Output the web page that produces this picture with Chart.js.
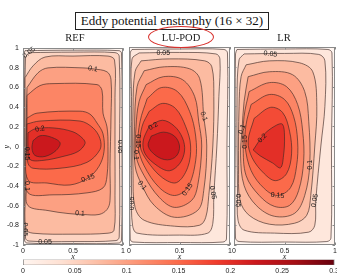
<!DOCTYPE html>
<html>
<head>
<meta charset="utf-8">
<script src="https://cdn.jsdelivr.net/npm/chart.js@4.4.1/dist/chart.umd.min.js"></script>
<style>
  html, body { margin: 0; padding: 0; background: #fff; width: 337px; height: 274px; overflow: hidden; }
  .box { position: absolute; }
  #title {
    left: 75px; top: 12px; width: 194px; height: 18px; box-sizing: border-box;
    border: 1px solid #222; text-align: center; line-height: 16px;
    font: 13px "Liberation Serif", "Times New Roman", serif; color: #111;
  }
  .ptitle {
    position: absolute; top: 32px; line-height: 12px; transform: translateX(-50%);
    font: 10.5px "Liberation Serif", "Times New Roman", serif; color: #222; white-space: nowrap;
  }
  #ring {
    left: 148px; top: 26px; width: 66px; height: 22px; box-sizing: border-box;
    border: 1.6px solid #d8302c; border-radius: 50%;
  }
</style>
</head>
<body>
<div id="title" class="box">Eddy potential enstrophy (16 × 32)</div>

<div class="box" style="left:0;top:40px;width:128px;height:222px"><canvas id="ref"></canvas></div>
<div class="box" style="left:124px;top:40px;width:111px;height:222px"><canvas id="lupod"></canvas></div>
<div class="box" style="left:229px;top:40px;width:115px;height:222px"><canvas id="lr"></canvas></div>
<div class="box" style="left:18px;top:255px;width:325px;height:19px"><canvas id="cbar"></canvas></div>

<div class="ptitle" style="left:75px">REF</div>
<div class="ptitle" style="left:181px">LU-POD</div>
<div class="ptitle" style="left:284px">LR</div>
<div id="ring" class="box"></div>

<script>
// contour levels and colour scale
const levels = [0.025, 0.05, 0.075, 0.1, 0.125, 0.15, 0.175, 0.2, 0.225];
const cMax = 0.3;
const xTicks = [0, 0.5, 1];
const yTicks = [-1, -0.8, -0.6, -0.4, -0.2, 0, 0.2, 0.4, 0.6, 0.8, 1];
const cbTicks = [0, 0.05, 0.1, 0.15, 0.2, 0.25, 0.3];

// contour lines, [x, y], one list per level
const refContours = [
  [[0.02,0.975],[0.5,0.98],[0.96,0.975],[0.985,0.95],[0.99,0],[0.985,-0.95],[0.96,-0.98],[0.5,-0.985],[0.04,-0.98],[0.015,-0.95],[0.01,0],[0.012,0.95]],
  [[0.06,0.955],[0.5,0.96],[0.92,0.955],[0.962,0.92],[0.965,0],[0.962,-0.92],[0.93,-0.955],[0.5,-0.965],[0.06,-0.96],[0.025,-0.93],[0.02,0],[0.025,0.9]],
  [[0.02,0.7],[0.1,0.82],[0.22,0.91],[0.5,0.92],[0.85,0.92],[0.915,0.88],[0.92,0.5],[0.92,0],[0.92,-0.5],[0.91,-0.85],[0.85,-0.88],[0.5,-0.89],[0.1,-0.88],[0.03,-0.84],[0.022,-0.5],[0.02,0]],
  [[0.04,0.6],[0.15,0.75],[0.25,0.8],[0.6,0.8],[0.7,0.79],[0.84,0.76],[0.88,0.68],[0.88,0.3],[0.87,-0.2],[0.87,-0.55],[0.84,-0.64],[0.76,-0.69],[0.6,-0.69],[0.45,-0.68],[0.25,-0.65],[0.05,-0.6],[0.035,-0.4],[0.03,0],[0.035,0.4]],
  [[0.04,0.52],[0.17,0.62],[0.3,0.64],[0.74,0.63],[0.79,0.57],[0.8,0.34],[0.84,0.2],[0.85,0],[0.84,-0.3],[0.8,-0.42],[0.64,-0.47],[0.3,-0.49],[0.05,-0.47],[0.04,-0.2],[0.04,0.2]],
  [[0.04,0.29],[0.14,0.34],[0.57,0.36],[0.67,0.33],[0.74,0.24],[0.8,0.13],[0.81,-0.05],[0.76,-0.2],[0.65,-0.32],[0.47,-0.39],[0.24,-0.37],[0.05,-0.34],[0.035,0]],
  [[0.04,0.23],[0.17,0.26],[0.57,0.26],[0.7,0.19],[0.77,0.08],[0.77,-0.03],[0.64,-0.16],[0.37,-0.22],[0.1,-0.22],[0.05,-0.17],[0.04,0]],
  [[0.05,0.14],[0.12,0.18],[0.3,0.19],[0.5,0.15],[0.6,0.08],[0.62,0.03],[0.55,-0.05],[0.4,-0.1],[0.2,-0.14],[0.07,-0.13],[0.05,0]],
  [[0.1,0.06],[0.17,0.11],[0.27,0.1],[0.37,0.04],[0.33,-0.04],[0.22,-0.1],[0.12,-0.09],[0.09,-0.02]]
];
const lupodContours = [
  [[0.03,0.975],[0.5,0.98],[0.94,0.975],[0.975,0.94],[0.97,0],[0.965,-0.94],[0.93,-0.97],[0.5,-0.975],[0.04,-0.97],[0.012,-0.94],[0.01,0],[0.012,0.94]],
  [[0.1,0.94],[0.5,0.945],[0.86,0.93],[0.9,0.88],[0.89,0.5],[0.87,0],[0.84,-0.5],[0.83,-0.78],[0.78,-0.88],[0.5,-0.9],[0.08,-0.88],[0.035,-0.8],[0.025,-0.5],[0.025,0.5],[0.03,0.88]],
  [[0.12,0.86],[0.4,0.88],[0.75,0.86],[0.82,0.8],[0.84,0.5],[0.83,0],[0.79,-0.5],[0.76,-0.72],[0.7,-0.8],[0.45,-0.81],[0.15,-0.75],[0.06,-0.62],[0.04,-0.3],[0.04,0.4],[0.06,0.75]],
  [[0.15,0.76],[0.35,0.8],[0.6,0.78],[0.7,0.68],[0.74,0.3],[0.77,0],[0.74,-0.45],[0.68,-0.65],[0.45,-0.72],[0.25,-0.6],[0.13,-0.4],[0.06,-0.2],[0.055,0.2],[0.08,0.6]],
  [[0.17,0.62],[0.34,0.7],[0.53,0.67],[0.65,0.5],[0.69,0.25],[0.72,0],[0.68,-0.4],[0.62,-0.55],[0.45,-0.62],[0.3,-0.52],[0.15,-0.3],[0.07,-0.1],[0.07,0.2],[0.1,0.45]],
  [[0.18,0.48],[0.32,0.59],[0.48,0.55],[0.6,0.35],[0.66,0.1],[0.66,-0.15],[0.58,-0.42],[0.45,-0.5],[0.3,-0.42],[0.15,-0.2],[0.09,0],[0.11,0.25]],
  [[0.2,0.35],[0.33,0.43],[0.46,0.38],[0.56,0.2],[0.61,0],[0.58,-0.22],[0.47,-0.37],[0.33,-0.32],[0.18,-0.15],[0.11,0],[0.13,0.2]],
  [[0.2,0.2],[0.33,0.26],[0.45,0.2],[0.53,0.08],[0.55,-0.05],[0.5,-0.18],[0.4,-0.25],[0.28,-0.2],[0.16,-0.08],[0.14,0.05]],
  [[0.22,0.1],[0.34,0.14],[0.45,0.1],[0.5,0],[0.47,-0.1],[0.38,-0.14],[0.27,-0.1],[0.19,0]]
];
const lrContours = [
  [[0.03,0.975],[0.5,0.98],[0.93,0.975],[0.97,0.94],[0.965,0],[0.96,-0.93],[0.92,-0.965],[0.5,-0.97],[0.05,-0.965],[0.015,-0.93],[0.012,0],[0.015,0.93]],
  [[0.1,0.93],[0.5,0.935],[0.84,0.925],[0.9,0.86],[0.9,0.4],[0.86,0],[0.81,-0.55],[0.8,-0.8],[0.74,-0.87],[0.4,-0.88],[0.1,-0.85],[0.04,-0.75],[0.035,-0.5],[0.03,0.5],[0.05,0.87]],
  [[0.12,0.82],[0.35,0.86],[0.65,0.84],[0.78,0.75],[0.82,0.4],[0.8,0],[0.76,-0.5],[0.72,-0.7],[0.6,-0.78],[0.35,-0.79],[0.15,-0.7],[0.06,-0.55],[0.045,-0.2],[0.05,0.4],[0.07,0.7]],
  [[0.14,0.7],[0.35,0.75],[0.58,0.72],[0.7,0.55],[0.74,0.25],[0.75,-0.19],[0.7,-0.5],[0.6,-0.68],[0.4,-0.71],[0.22,-0.6],[0.1,-0.4],[0.065,-0.1],[0.08,0.17],[0.1,0.45]],
  [[0.15,0.55],[0.35,0.64],[0.52,0.6],[0.63,0.42],[0.68,0.15],[0.69,-0.15],[0.64,-0.45],[0.55,-0.6],[0.4,-0.61],[0.25,-0.5],[0.12,-0.3],[0.09,0],[0.1,0.3]],
  [[0.17,0.42],[0.35,0.52],[0.5,0.47],[0.59,0.3],[0.63,0.05],[0.62,-0.2],[0.56,-0.42],[0.43,-0.5],[0.3,-0.43],[0.17,-0.25],[0.11,0],[0.12,0.22]],
  [[0.2,0.28],[0.36,0.39],[0.48,0.34],[0.55,0.15],[0.57,-0.08],[0.52,-0.28],[0.41,-0.35],[0.3,-0.28],[0.18,-0.12],[0.14,0.05]],
  [[0.19,-0.04],[0.3,0.12],[0.42,0.21],[0.48,0.22],[0.5,0.1],[0.49,-0.1],[0.46,-0.22],[0.38,-0.17],[0.26,-0.1]]
];

// inline contour labels: [x, y, text, angle in degrees]
const refLabels = [
  [0.06,0.955,'0.05',-38],[0.7,0.79,'0.1',10],[0.17,0.18,'0.2',-10],[0.97,0,'0.05',90],
  [0.04,-0.07,'0.15',90],[0.65,-0.32,'0.15',-20],[0.04,-0.4,'0.1',90],[0.57,-0.68,'0.1',4],
  [0.02,-0.84,'0.05',90],[0.22,-0.97,'0.05',0]
];
const lupodLabels = [
  [0.34,0.94,'0.05',0],[0.74,0.3,'0.1',70],[0.24,0.2,'0.2',-30],[0.09,0.05,'0.15',90],
  [0.065,-0.09,'0.1',90],[0.13,-0.4,'0.1',50],[0.58,-0.44,'0.15',-55],[0.83,-0.47,'0.05',80],
  [0.035,-0.58,'0.05',-90]
];
const lrLabels = [
  [0.36,0.93,'0.05',8],[0.08,0.17,'0.1',-70],[0.11,0.04,'0.15',-90],[0.28,0.08,'0.2',-45],
  [0.75,-0.19,'0.1',-90],[0.43,-0.5,'0.15',5],[0.8,-0.55,'0.05',-80],[0.04,-0.55,'0.05',90]
];

const reds = ['#fff5f0','#fee0d2','#fcbba1','#fc9272','#fb6a4a','#ef3b2c','#cb181d','#a50f15','#67000d'];
function hex(c) { return [1, 3, 5].map(i => parseInt(c.substr(i, 2), 16)); }
function redAt(t) {
  t = Math.max(0, Math.min(1, t)) * (reds.length - 1);
  const i = Math.min(Math.floor(t), reds.length - 2), f = t - i;
  const a = hex(reds[i]), b = hex(reds[i + 1]);
  return 'rgb(' + a.map((v, k) => Math.round(v + (b[k] - v) * f)).join(',') + ')';
}

const sans = '"Liberation Sans", Arial, Helvetica, sans-serif';
const serif = '"Liberation Serif", "Times New Roman", serif';
Chart.defaults.font.family = sans;
Chart.defaults.font.size = 7;
Chart.defaults.color = '#222';

const panelDeco = {
  id: 'panelDeco',
  beforeDatasetsDraw(chart) {
    const a = chart.chartArea, c = chart.ctx;
    c.save();
    c.fillStyle = redAt(0);
    c.fillRect(a.left, a.top, a.right - a.left, a.bottom - a.top);
    c.restore();
  },
  afterDatasetsDraw(chart, args, opts) {
    const a = chart.chartArea, c = chart.ctx, sx = chart.scales.x, sy = chart.scales.y;
    c.save();
    c.fillStyle = '#1a1a1a';
    c.font = '7px ' + sans;
    c.textAlign = 'center';
    c.textBaseline = 'middle';
    (opts.labels || []).forEach(l => {
      c.save();
      c.translate(sx.getPixelForValue(l[0]), sy.getPixelForValue(l[1]));
      c.rotate(l[3] * Math.PI / 180);
      c.fillText(l[2], 0, 0);
      c.restore();
    });
    // box and inner tick marks
    c.strokeStyle = '#8a8a8a';
    c.lineWidth = 1;
    c.strokeRect(Math.round(a.left) + 0.5, Math.round(a.top) + 0.5, Math.round(a.right - a.left) - 1, Math.round(a.bottom - a.top) - 1);
    c.beginPath();
    xTicks.forEach(v => {
      const p = Math.round(sx.getPixelForValue(v)) + 0.5;
      c.moveTo(p, a.bottom); c.lineTo(p, a.bottom - 2.5);
      c.moveTo(p, a.top); c.lineTo(p, a.top + 2.5);
    });
    yTicks.forEach(v => {
      const p = Math.round(sy.getPixelForValue(v)) + 0.5;
      c.moveTo(a.left, p); c.lineTo(a.left + 2.5, p);
      c.moveTo(a.right, p); c.lineTo(a.right - 2.5, p);
    });
    c.stroke();
    c.restore();
  }
};

function makePanel(id, contours, labels, showY, padL, padR) {
  const datasets = contours.map((pts, i) => ({
    data: pts.concat([pts[0]]).map(p => ({ x: p[0], y: p[1] })),
    fill: 'shape',
    backgroundColor: redAt(levels[i] / cMax),
    borderColor: 'rgba(60,40,36,0.85)',
    borderWidth: 0.75,
    pointRadius: 0,
    tension: 0.35,
    order: contours.length - i
  }));
  return new Chart(document.getElementById(id), {
    type: 'line',
    data: { datasets: datasets },
    plugins: [panelDeco],
    options: {
      animation: false,
      responsive: true,
      maintainAspectRatio: false,
      layout: { padding: { left: padL, right: padR, top: 7, bottom: 0 } },
      plugins: {
        legend: { display: false },
        tooltip: { enabled: false },
        panelDeco: { labels: labels }
      },
      scales: {
        x: {
          type: 'linear', min: 0, max: 1,
          afterFit: s => { s.height = 17; },
          afterBuildTicks: s => { s.ticks = xTicks.map(v => ({ value: v })); },
          grid: { display: false, drawTicks: false },
          border: { display: false },
          ticks: { padding: 2, maxRotation: 0, autoSkip: false, callback: v => String(v) },
          title: { display: true, text: 'x', font: { family: serif, style: 'italic', size: 8 }, padding: { top: 0, bottom: 0 } }
        },
        y: {
          type: 'linear', min: -1, max: 1,
          display: showY,
          afterFit: s => { s.width = showY ? 23 : 0; },
          afterBuildTicks: s => { s.ticks = yTicks.map(v => ({ value: v })); },
          grid: { display: false, drawTicks: false },
          border: { display: false },
          ticks: { padding: 4, autoSkip: false, callback: v => String(v) },
          title: { display: showY, text: 'y', font: { family: serif, style: 'italic', size: 8 }, padding: { top: 2, bottom: 0 } }
        }
      }
    }
  });
}

makePanel('ref', refContours, refLabels, true, 0, 5);
makePanel('lupod', lupodContours, lupodLabels, false, 5, 5);
makePanel('lr', lrContours, lrLabels, false, 5, 9);

// colour bar
new Chart(document.getElementById('cbar'), {
  type: 'bar',
  data: {
    labels: ['bar'],
    datasets: [{
      data: [[cbTicks[0], cbTicks[cbTicks.length - 1]]],
      backgroundColor: ctx => {
        const ch = ctx.chart, sx = ch.scales.x;
        if (!ch.chartArea || !sx) return redAt(0.5);
        const g = ch.ctx.createLinearGradient(sx.getPixelForValue(0), 0, sx.getPixelForValue(cMax), 0);
        reds.forEach((c, i) => g.addColorStop(i / (reds.length - 1), c));
        return g;
      },
      borderColor: '#777',
      borderWidth: 0.7,
      borderSkipped: false,
      barPercentage: 1,
      categoryPercentage: 1
    }]
  },
  options: {
    indexAxis: 'y',
    animation: false,
    responsive: true,
    maintainAspectRatio: false,
    layout: { padding: { left: 5, right: 9, top: 4.5, bottom: 0 } },
    plugins: { legend: { display: false }, tooltip: { enabled: false } },
    scales: {
      x: {
        type: 'linear', min: 0, max: cMax, z: 1,
        afterFit: s => { s.height = 9; },
        afterBuildTicks: s => { s.ticks = cbTicks.map(v => ({ value: v })); },
        grid: { display: true, drawTicks: false, color: 'rgba(60,60,60,0.45)', lineWidth: 0.6 },
        border: { display: false },
        ticks: { padding: 2, maxRotation: 0, autoSkip: false, callback: v => String(v) }
      },
      y: { display: false }
    }
  }
});
</script>
</body>
</html>
